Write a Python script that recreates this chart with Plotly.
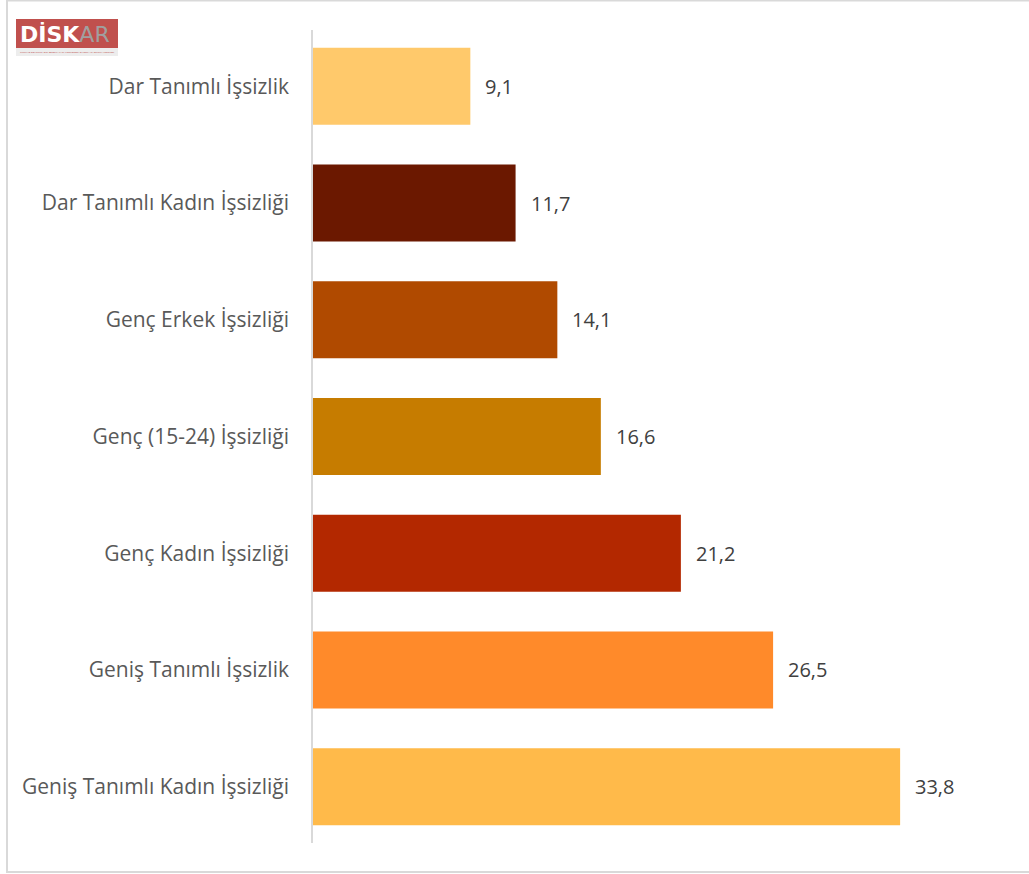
import plotly.graph_objects as go

categories = [
    "Dar Tanımlı İşsizlik",
    "Dar Tanımlı Kadın İşsizliği",
    "Genç Erkek İşsizliği",
    "Genç (15-24) İşsizliği",
    "Genç Kadın İşsizliği",
    "Geniş Tanımlı İşsizlik",
    "Geniş Tanımlı Kadın İşsizliği",
]
values = [9.1, 11.7, 14.1, 16.6, 21.2, 26.5, 33.8]
bar_colors = ["#FFC96B", "#6B1800", "#B04A00", "#C67C00", "#B32800", "#FF8A2A", "#FFBA4A"]
value_labels = [f"{v:.1f}".replace(".", ",") for v in values]

W, H = 1029, 874
L, R, T, B = 312, 21, 28, 29
PW, PH = W - L - R, H - T - B

def px(x):
    return (x - L) / PW

def py(y):
    return 1 - (y - T) / PH

fig = go.Figure()
fig.add_trace(go.Bar(
    y=categories, x=values, orientation="h",
    marker=dict(color=bar_colors, line=dict(width=0)),
    hoverinfo="skip",
))

for c, v, t in zip(categories, values, value_labels):
    fig.add_annotation(x=v, y=c, xref="x", yref="y", text=t, showarrow=False,
                       xanchor="left", xshift=13,
                       font=dict(family="Open Sans", size=20, color="#404040"))

shapes = [
    # outer border
    dict(type="rect", xref="paper", yref="paper", x0=px(7), x1=px(1040), y0=py(872), y1=py(0.5),
         line=dict(color="#d9d9d9", width=2), fillcolor="rgba(0,0,0,0)", layer="below"),
    # logo
    dict(type="rect", xref="paper", yref="paper", x0=px(16), x1=px(118), y0=py(48), y1=py(19),
         line=dict(width=0), fillcolor="#C0504D"),
    dict(type="rect", xref="paper", yref="paper", x0=px(16), x1=px(118), y0=py(56), y1=py(48),
         line=dict(width=0), fillcolor="#EDEDED"),
]
fig.add_annotation(xref="paper", yref="paper", x=px(65), y=py(34), xanchor="center", yanchor="middle",
                   text="<b>DİSK</b><span style='color:#A0A0A0'>AR</span>", showarrow=False,
                   font=dict(family="DejaVu Sans", size=22, color="white"))
fig.add_annotation(xref="paper", yref="paper", x=px(67), y=py(52), xanchor="center", yanchor="middle",
                   text="TÜRKİYE DEVRİMCİ İŞÇİ SENDİKALARI KONFEDERASYONU ARAŞTIRMA MERKEZİ", showarrow=False,
                   font=dict(family="Liberation Sans", size=2.4, color="#C0504D"))

fig.update_layout(
    width=W, height=H,
    margin=dict(l=L, r=R, t=T, b=B),
    paper_bgcolor="white", plot_bgcolor="white",
    showlegend=False,
    bargap=0.34,
    shapes=shapes,
    xaxis=dict(range=[0, 40], visible=False, fixedrange=True),
    yaxis=dict(autorange="reversed", showgrid=False, zeroline=False,
               showline=False, ticks="", ticklabelstandoff=22, fixedrange=True,
               tickfont=dict(family="Open Sans", size=21, color="#595959")),
)
fig.add_shape(type="line", xref="paper", yref="paper", x0=0, x1=0, y0=py(843), y1=py(30),
              line=dict(color="#d9d9d9", width=2))

fig.write_html("out.html", config={"displayModeBar": False},
               post_script="document.body.style.margin='0';document.body.style.overflow='hidden';")
